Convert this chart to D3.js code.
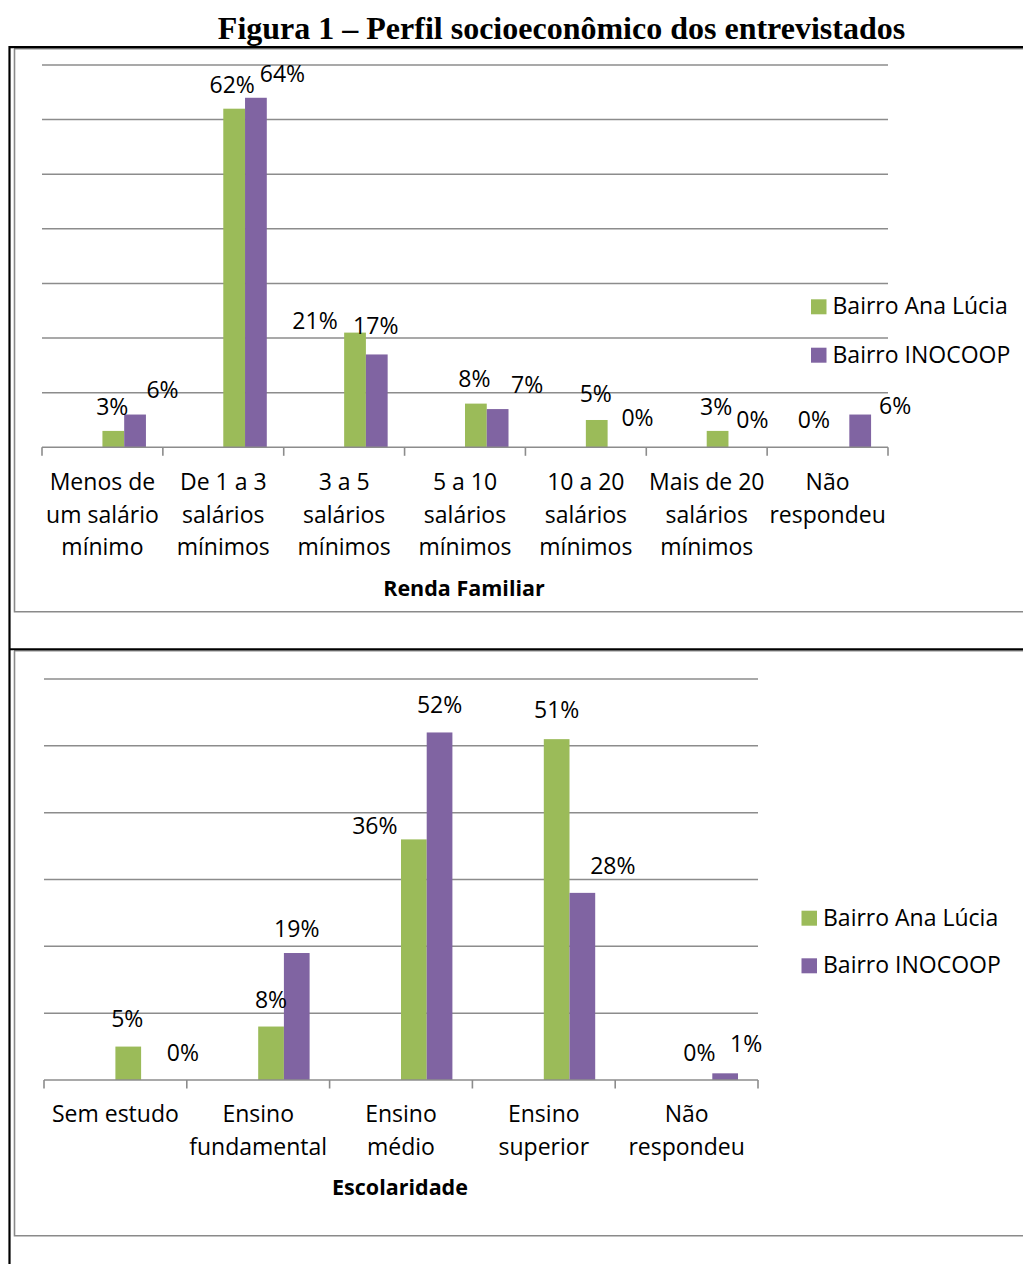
<!DOCTYPE html>
<html lang="pt">
<head>
<meta charset="utf-8">
<title>Figura 1 – Perfil socioeconômico dos entrevistados</title>
<script src="https://cdn.jsdelivr.net/npm/d3@7/dist/d3.min.js"></script>
<style>
  html, body { margin: 0; padding: 0; background: #ffffff; }
  svg { display: block; }
  text { font-family: "Open Sans", "Noto Sans", sans-serif; fill: #000; }
</style>
</head>
<body>
<svg id="fig" width="1023" height="1264"></svg>
<script>
// Séries comparadas
const series = ["Bairro Ana Lúcia", "Bairro INOCOOP"];

// Renda familiar (% dos entrevistados)
const rendaCategorias = [
  ["Menos de", "um salário", "mínimo"],
  ["De 1 a 3", "salários", "mínimos"],
  ["3 a 5", "salários", "mínimos"],
  ["5 a 10", "salários", "mínimos"],
  ["10 a 20", "salários", "mínimos"],
  ["Mais de 20", "salários", "mínimos"],
  ["Não", "respondeu"]
];
const rendaAnaLucia = [3, 62, 21, 8, 5, 3, 0];
const rendaInocoop  = [6, 64, 17, 7, 0, 0, 6];

// Escolaridade (% dos entrevistados)
const escolaridadeCategorias = [
  ["Sem estudo"],
  ["Ensino", "fundamental"],
  ["Ensino", "médio"],
  ["Ensino", "superior"],
  ["Não", "respondeu"]
];
const escolaridadeAnaLucia = [5, 8, 36, 51, 0];
const escolaridadeInocoop  = [0, 19, 52, 28, 1];

// Deslocamento manual dos rótulos de valor [dx, dy], por série
const rendaRotulosAna  = [[-1, 3], [-2, 3], [-40, 15.5], [-1.5, 2], [-1, 1], [-1.5, 2.5], [-24.5, -0.5]];
const rendaRotulosIno  = [[27.5, 2], [26.5, 3], [-1, -2], [29.5, 3], [19, -2.5], [13, -0.5], [35, 18.5]];
const escRotulosAna    = [[-1, -0.5], [0, 0.5], [-39, 13.5], [0, -2], [0, 0]];
const escRotulosIno    = [[29, 0], [0, 3], [0, -1], [30.5, 0], [21, -3]];

const colors = { "Bairro Ana Lúcia": "#9bbb59", "Bairro INOCOOP": "#8064a2" };
const gridColor = "#8c8c8c";

const svg = d3.select("#fig");

// Título da figura
svg.append("text")
  .attr("x", 561.5).attr("y", 39.3)
  .attr("text-anchor", "middle")
  .style("font-family", "'Liberation Serif', 'Times New Roman', serif")
  .style("font-weight", "bold")
  .style("font-size", "32px")
  .text("Figura 1 – Perfil socioeconômico dos entrevistados");

// Molduras (tabela e áreas dos gráficos)
const frame = svg.append("g").attr("fill", "none");
frame.append("path").attr("d", "M14.5,49 V611.7 H1023").attr("stroke", "#8a8a8a").attr("stroke-width", 1.6);
frame.append("path").attr("d", "M14.5,651 V1235.7 H1023").attr("stroke", "#8a8a8a").attr("stroke-width", 1.6);
frame.append("line").attr("x1", 14).attr("x2", 1023).attr("y1", 48.8).attr("y2", 48.8).attr("stroke", "#8a8a8a").attr("stroke-width", 1.4);
frame.append("line").attr("x1", 14).attr("x2", 1023).attr("y1", 650.8).attr("y2", 650.8).attr("stroke", "#8a8a8a").attr("stroke-width", 1.4);
frame.append("path").attr("d", "M9.5,1264 V47.2 H1023").attr("stroke", "#000").attr("stroke-width", 2.2);
frame.append("line").attr("x1", 9).attr("x2", 1023).attr("y1", 649.2).attr("y2", 649.2).attr("stroke", "#000").attr("stroke-width", 2);

function barChart(opt) {
  const g = svg.append("g");
  const idx = opt.categorias.map((_, i) => i);

  const x0 = d3.scaleBand().domain(idx).range([opt.left, opt.right]).padding(0);
  const bw = x0.bandwidth();
  const barW = bw * 0.18;
  // as duas barras começam no centro de cada categoria
  const x1 = d3.scaleBand().domain(series).range([bw / 2, bw / 2 + 2 * barW]).padding(0);
  const y = d3.scaleLinear().domain([0, opt.max]).range([opt.base, opt.top]);

  // linhas de grade
  g.append("g").selectAll("line")
    .data(d3.range(10, opt.max + 1, 10))
    .join("line")
    .attr("x1", opt.left).attr("x2", opt.right)
    .attr("y1", d => y(d)).attr("y2", d => y(d))
    .attr("stroke", gridColor).attr("stroke-width", 1.5);

  // barras
  const valores = { "Bairro Ana Lúcia": opt.ana, "Bairro INOCOOP": opt.ino };
  const rotulos = { "Bairro Ana Lúcia": opt.rotAna, "Bairro INOCOOP": opt.rotIno };
  const rows = [];
  series.forEach(s => idx.forEach(i => rows.push({ s, i, v: valores[s][i] })));

  g.append("g").selectAll("rect")
    .data(rows.filter(d => d.v > 0))
    .join("rect")
    .attr("x", d => x0(d.i) + x1(d.s))
    .attr("width", x1.bandwidth())
    .attr("y", d => y(d.v))
    .attr("height", d => y(0) - y(d.v))
    .attr("fill", d => colors[d.s]);

  // eixo horizontal com marcas nas divisões das categorias
  const ax = g.append("g");
  ax.append("line")
    .attr("x1", opt.left).attr("x2", opt.right)
    .attr("y1", y(0)).attr("y2", y(0))
    .attr("stroke", gridColor).attr("stroke-width", 1.6);
  ax.selectAll("line.tick")
    .data(idx.map(i => x0(i)).concat([opt.right]))
    .join("line").attr("class", "tick")
    .attr("x1", d => d).attr("x2", d => d)
    .attr("y1", y(0)).attr("y2", y(0) + 8.5)
    .attr("stroke", gridColor).attr("stroke-width", 1.6);

  // rótulos de valor
  g.append("g").selectAll("text")
    .data(rows)
    .join("text")
    .attr("text-anchor", "middle")
    .style("font-size", "23px")
    .attr("x", d => x0(d.i) + x1(d.s) + x1.bandwidth() / 2 + rotulos[d.s][d.i][0])
    .attr("y", d => y(d.v) - 27 + 8.2 + rotulos[d.s][d.i][1])
    .text(d => d.v + "%");

  // nomes das categorias
  const cat = g.append("g").selectAll("text")
    .data(idx)
    .join("text")
    .attr("text-anchor", "middle")
    .style("font-size", "23px")
    .attr("x", i => x0(i) + bw / 2)
    .attr("y", opt.catY);
  cat.selectAll("tspan")
    .data(i => opt.categorias[i].map((t, k) => ({ t, k, i })))
    .join("tspan")
    .attr("x", d => x0(d.i) + bw / 2)
    .attr("y", d => opt.catY + d.k * opt.lineH)
    .text(d => d.t);

  // título do eixo
  g.append("text")
    .attr("x", opt.titleX).attr("y", opt.titleY)
    .attr("text-anchor", "middle")
    .style("font-size", "21.5px").style("font-weight", "bold")
    .text(opt.titulo);

  // legenda
  const lg = g.append("g").selectAll("g")
    .data(series)
    .join("g")
    .attr("transform", (d, k) => `translate(${opt.legX},${opt.legY + k * opt.legStep})`);
  lg.append("rect").attr("x", 0).attr("y", -15).attr("width", 15.5).attr("height", 15)
    .attr("fill", d => colors[d]);
  lg.append("text").attr("x", 21.5).attr("y", 0)
    .style("font-size", "23px")
    .text(d => d);
}

barChart({
  categorias: rendaCategorias, ana: rendaAnaLucia, ino: rendaInocoop,
  rotAna: rendaRotulosAna, rotIno: rendaRotulosIno,
  left: 42, right: 888, base: 447.3, top: 65, max: 70,
  catY: 490, lineH: 32.5,
  titulo: "Renda Familiar", titleX: 464, titleY: 595.5,
  legX: 811, legY: 314.3, legStep: 48.4
});

barChart({
  categorias: escolaridadeCategorias, ana: escolaridadeAnaLucia, ino: escolaridadeInocoop,
  rotAna: escRotulosAna, rotIno: escRotulosIno,
  left: 44, right: 758, base: 1080, top: 679, max: 60,
  catY: 1121.7, lineH: 33,
  titulo: "Escolaridade", titleX: 400, titleY: 1194.5,
  legX: 801.5, legY: 925.7, legStep: 47.6
});
</script>
</body>
</html>
